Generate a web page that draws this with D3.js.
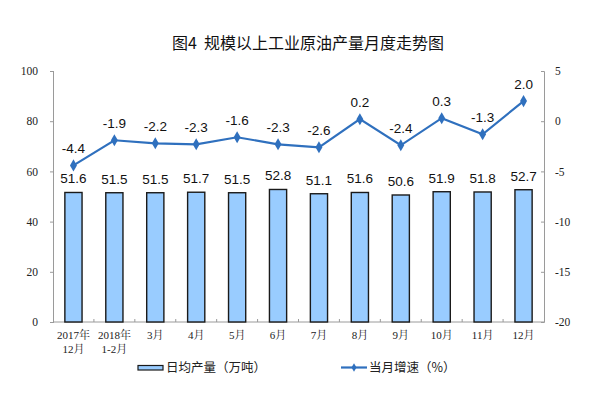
<!DOCTYPE html>
<html><head><meta charset="utf-8">
<script src="https://cdn.jsdelivr.net/npm/d3@7"></script>
<style>body{margin:0;background:#fff}svg{display:block}</style>
</head><body>
<svg id="c" width="608" height="398"></svg>
<script>
const categories = ["2017年\n12月","2018年\n1-2月","3月","4月","5月","6月","7月","8月","9月","10月","11月","12月"];
const dailyOutput = [51.6,51.5,51.5,51.7,51.5,52.8,51.1,51.6,50.6,51.9,51.8,52.7];
const growth = [-4.4,-1.9,-2.2,-2.3,-1.6,-2.3,-2.6,0.2,-2.4,0.3,-1.3,2.0];
const leftTicks = [0,20,40,60,80,100];
const rightTicks = [-20,-15,-10,-5,0,5];
const title = "图4\u00A0\u00A0规模以上工业原油产量月度走势图";
const legendLabels = ["日均产量（万吨）","当月增速（%）"];

const svg = d3.select("#c");
const L = 53, R = 544, T = 71, B = 322;
const serif = "'Liberation Serif','Noto Serif CJK SC','Noto Sans CJK SC',serif";
const sans = "'Liberation Sans',Arial,'Noto Sans CJK SC',sans-serif";
const lineColor = "#2F70BE";

const x = d3.scaleBand().domain(categories).range([L,R]).paddingInner(0.58).paddingOuter(0.29);
const xb = d3.scaleBand().domain(categories).range([L,R]);
const yL = d3.scaleLinear().domain([0,100]).range([B,T]);
const yR = d3.scaleLinear().domain([-20,5]).range([B,T]);

svg.append("text").attr("x",308).attr("y",49).attr("text-anchor","middle")
  .attr("font-family","'Noto Sans CJK SC',sans-serif").attr("font-size",16).attr("font-weight",400).attr("fill","#111").text(title);

// axes
const gl = svg.append("g").attr("transform",`translate(${L},0)`)
  .call(d3.axisLeft(yL).tickValues(leftTicks).tickSize(3).tickPadding(12));
const gr = svg.append("g").attr("transform",`translate(${R},0)`)
  .call(d3.axisRight(yR).tickValues(rightTicks).tickSize(-3).tickPadding(11).tickFormat(d=>d));
[gl,gr].forEach(g=>{
  g.select(".domain").attr("stroke","#9a9a9a");
  g.selectAll(".tick line").attr("stroke","#9a9a9a");
  g.selectAll(".tick text").attr("font-family",serif).attr("font-size",11.5).attr("fill","#222");
});
gl.selectAll(".tick line").attr("x2",-3).attr("x1",1);

// x axis
svg.append("line").attr("x1",L).attr("x2",R).attr("y1",B).attr("y2",B).attr("stroke","#9a9a9a");
svg.append("g").selectAll("line").data(categories.slice(1)).join("line")
  .attr("x1",d=>xb(d)).attr("x2",d=>xb(d)).attr("y1",B).attr("y2",B-3).attr("stroke","#9a9a9a");

const xl = svg.append("g").selectAll("text").data(categories).join("text")
  .attr("x",d=>x(d)+x.bandwidth()/2).attr("y",339).attr("text-anchor","middle")
  .attr("font-family",serif).attr("font-size",11).attr("fill","#222");
xl.each(function(d){
  const parts = d.split("\n");
  d3.select(this).selectAll("tspan").data(parts).join("tspan")
    .attr("x",x(d)+x.bandwidth()/2).attr("dy",(p,i)=>i?14:0).text(p=>p);
});

// bars
svg.append("g").selectAll("rect").data(dailyOutput).join("rect")
  .attr("x",(d,i)=>x(categories[i])).attr("width",x.bandwidth())
  .attr("y",d=>yL(d)).attr("height",d=>B-yL(d))
  .attr("fill","#99CCFF").attr("stroke","#1a1a1a").attr("stroke-width",1.4);

svg.append("g").selectAll("text").data(dailyOutput).join("text")
  .attr("x",(d,i)=>x(categories[i])+x.bandwidth()/2).attr("y",d=>yL(d)-9)
  .attr("text-anchor","middle").attr("font-family",sans).attr("font-size",13.5).attr("fill","#111")
  .text(d=>d.toFixed(1));

// line
const line = d3.line().x((d,i)=>x(categories[i])+x.bandwidth()/2).y(d=>yR(d));
svg.append("path").datum(growth).attr("d",line).attr("fill","none").attr("stroke",lineColor).attr("stroke-width",2.2);
const diamond = d3.symbol().type(d3.symbolDiamond).size(42);
svg.append("g").selectAll("path").data(growth).join("path")
  .attr("d",diamond).attr("transform",(d,i)=>`translate(${x(categories[i])+x.bandwidth()/2},${yR(d)})`)
  .attr("fill",lineColor);
svg.append("g").selectAll("text").data(growth).join("text")
  .attr("x",(d,i)=>x(categories[i])+x.bandwidth()/2).attr("y",d=>yR(d)-12)
  .attr("text-anchor","middle").attr("font-family",sans).attr("font-size",13.5).attr("fill","#111")
  .text(d=>d.toFixed(1));

// legend
svg.append("rect").attr("x",138).attr("y",365.5).attr("width",25).attr("height",4.5)
  .attr("fill","#99CCFF").attr("stroke","#1a1a1a").attr("stroke-width",1.2);
svg.append("text").attr("x",166).attr("y",372).attr("font-family","'Noto Sans CJK SC',sans-serif")
  .attr("font-size",12.5).attr("fill","#222").text(legendLabels[0]);
svg.append("line").attr("x1",341).attr("x2",367).attr("y1",367.5).attr("y2",367.5).attr("stroke",lineColor).attr("stroke-width",2.2);
svg.append("path").attr("d",d3.symbol().type(d3.symbolDiamond).size(22)).attr("transform","translate(354,367.5)").attr("fill",lineColor);
svg.append("text").attr("x",369).attr("y",372).attr("font-family","'Noto Sans CJK SC',sans-serif")
  .attr("font-size",12.5).attr("fill","#222").text(legendLabels[1]);
</script>
</body></html>
